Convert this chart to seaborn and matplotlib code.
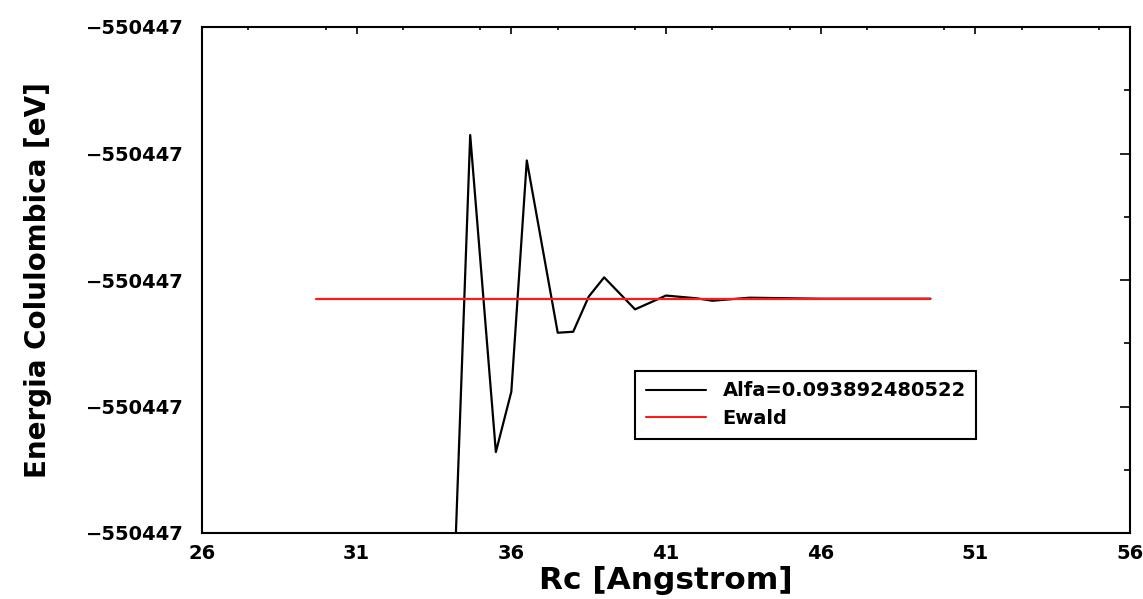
import numpy as np
import pandas as pd
import matplotlib
matplotlib.use("Agg")
import matplotlib.pyplot as plt
from matplotlib.ticker import FuncFormatter, MultipleLocator, FixedLocator
import seaborn as sns

# ---- data ----
rc_alfa = [34.0, 34.67, 35.5, 36.0, 36.5, 37.5, 38.0, 38.5, 39.0, 40.0,
           41.0, 42.0, 42.5, 43.7, 46.0, 49.55]
e_alfa = [-550447.342, -550446.8854, -550447.136, -550447.0883, -550446.9055,
          -550447.0417, -550447.0409, -550447.0132, -550446.9979, -550447.0232,
          -550447.0123, -550447.0145, -550447.0164, -550447.0140, -550447.0148,
          -550447.0148]
rc_ewald = [29.7, 49.55]
e_ewald = [-550447.0148, -550447.0148]

label_alfa = "Alfa=0.093892480522"
label_ewald = "Ewald"
xticks = [26, 31, 36, 41, 46, 51, 56]
yticks = [-550447.2, -550447.1, -550447.0, -550446.9, -550446.8]

df = pd.concat([
    pd.DataFrame({"Rc": rc_alfa, "E": e_alfa, "serie": label_alfa}),
    pd.DataFrame({"Rc": rc_ewald, "E": e_ewald, "serie": label_ewald}),
], ignore_index=True)

sns.set_style("white")
plt.rcParams["font.family"] = ["DejaVu Sans"]
plt.rcParams["font.weight"] = "bold"
plt.rcParams["text.color"] = "black"
plt.rcParams["axes.labelcolor"] = "black"
plt.rcParams["xtick.color"] = "black"
plt.rcParams["ytick.color"] = "black"

fig = plt.figure(figsize=(11.43, 5.99), dpi=100)
ax = fig.add_axes([202/1143, 66/599, 928/1143, 506/599])

sns.lineplot(data=df, x="Rc", y="E", hue="serie",
             palette={label_alfa: "black", label_ewald: "#ff1a1a"},
             linewidth=1.6, ax=ax, sort=False, estimator=None)

ax.set_xlim(26, 56)
ax.set_ylim(yticks[0], yticks[-1])
ax.xaxis.set_major_locator(FixedLocator(xticks))
ax.xaxis.set_minor_locator(MultipleLocator(2.5))
ax.yaxis.set_major_locator(FixedLocator(yticks))
ax.yaxis.set_minor_locator(FixedLocator([v + 0.05 for v in yticks[:-1]]))
ax.yaxis.set_major_formatter(FuncFormatter(lambda v, p: f"{v:.0f}".replace("-", "\u2212")))
ax.xaxis.set_major_formatter(FuncFormatter(lambda v, p: f"{v:.0f}"))

for s in ax.spines.values():
    s.set_visible(True)
    s.set_linewidth(1.5)
    s.set_color("black")

ax.tick_params(axis="both", which="both", direction="in", top=True, right=True,
               colors="black", labelcolor="black", width=1.2)
ax.tick_params(axis="y", which="major", length=7.5, pad=13, labelsize=14)
ax.tick_params(axis="y", which="minor", length=4.3)
ax.tick_params(axis="x", which="major", length=5, pad=8, labelsize=14)
ax.tick_params(axis="x", which="minor", length=2.5)
for lab in ax.get_xticklabels() + ax.get_yticklabels():
    lab.set_fontweight("bold")

ax.set_xlabel("Rc [Angstrom]", fontsize=22.5, fontweight="bold", labelpad=2, color="black")
ax.set_ylabel("Energia Colulombica [eV]", fontsize=20, fontweight="bold", color="black")
ax.yaxis.set_label_coords(-0.1616, 0.5)

leg = ax.legend(loc="upper left", bbox_to_anchor=(0.4666, 0.3208), borderaxespad=0,
                frameon=True, fancybox=False, edgecolor="black", framealpha=1,
                prop={"size": 14, "weight": "bold"}, handlelength=3.1,
                handletextpad=0.85, labelspacing=0.45, borderpad=0.55)
leg.get_frame().set_linewidth(1.5)
for t in leg.get_texts():
    t.set_color("black")
for h in leg.get_lines():
    h.set_linewidth(1.5)

fig.savefig("out.png", dpi=100)
